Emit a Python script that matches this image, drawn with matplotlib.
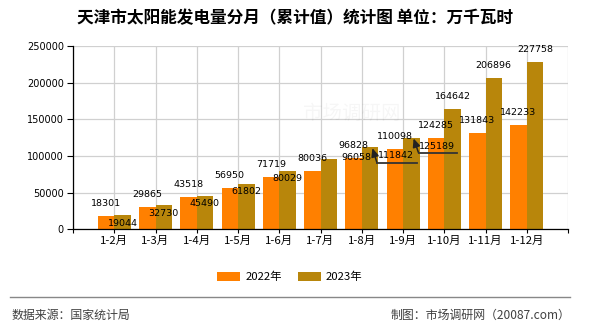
import matplotlib
matplotlib.use("Agg")
import matplotlib.pyplot as plt
from matplotlib.lines import Line2D
from matplotlib.patches import Patch
from matplotlib.transforms import IdentityTransform

plt.rcParams['font.family'] = ['Noto Sans CJK SC', 'DejaVu Sans']

# Data
categories = ['1-2月', '1-3月', '1-4月', '1-5月', '1-6月', '1-7月',
              '1-8月', '1-9月', '1-10月', '1-11月', '1-12月']
values_2022 = [18301, 29865, 43518, 56950, 71719, 80036,
               96828, 110098, 124285, 131843, 142233]
values_2023 = [19044, 32730, 45490, 61802, 80029, 96058,
               111842, 125189, 164642, 206896, 227758]
series_names = ['2022年', '2023年']
y_ticks = [0, 50000, 100000, 150000, 200000, 250000]

COLOR_2022 = '#FF8000'
COLOR_2023 = '#B8860B'
GRID = '#D0D0D0'

W, H = 590, 330
fig = plt.figure(figsize=(W / 100, H / 100), dpi=100)
ax = fig.add_axes([73 / W, (H - 229.3) / H, (568 - 73) / W, (229.3 - 46) / H])

n = len(categories)
xs = list(range(n))
bw = 0.4
ax.bar([x - bw / 2 for x in xs], values_2022, width=bw, color=COLOR_2022, zorder=2)
ax.bar([x + bw / 2 for x in xs], values_2023, width=bw, color=COLOR_2023, zorder=2)

ax.set_xlim(-1, n)
ax.set_ylim(0, 250000)
ax.set_yticks(y_ticks)
ax.set_yticklabels([str(v) for v in y_ticks], fontsize=7, family='DejaVu Sans')
ax.set_xticks(list(range(-1, n + 1)))
ax.set_xticklabels([''] + categories + [''], fontsize=8.2)

ax.grid(True, color=GRID, linewidth=0.9, zorder=0)
ax.set_axisbelow(True)
for s in ('top', 'right'):
    ax.spines[s].set_visible(False)
for s in ('left', 'bottom'):
    ax.spines[s].set_color('black')
    ax.spines[s].set_linewidth(0.9)
ax.tick_params(axis='y', direction='out', length=4.5, width=0.8, pad=2)
ax.tick_params(axis='x', direction='out', length=3, width=0.8, pad=2)

# Faint watermark behind the labels
fig.text(352 / W, 1 - 113 / H, '市场调研网', fontsize=14, color='#000000',
         alpha=0.035, ha='center', va='center', zorder=1)

# Value labels (pixel offsets from the bar tops)
lbl_kw = dict(textcoords='offset pixels', ha='center', va='center',
              fontsize=6.8, family='DejaVu Sans', color='black', zorder=4)
for x, v in zip(xs, values_2022):
    ax.annotate(str(v), xy=(x - bw / 2, v), xytext=(0, 12.5), **lbl_kw)

offsets_2023 = [(0, -8)] * 5 + [(27.5, 1), (25.5, -7.8), (26, -8.6)] + [(0, 12.5)] * 3
for x, v, off in zip(xs, values_2023, offsets_2023):
    ax.annotate(str(v), xy=(x + bw / 2, v), xytext=off, **lbl_kw)

# Leader arrows for shifted labels (pixel offsets: start, corner, tip)
leaders = {6: [(47, -15.5), (7, -15.5), (2.4, -0.8)],
           7: [(45.7, -15.3), (7.3, -15.3), (2.3, -0.9)]}
fig.canvas.draw()
for i, pts in leaders.items():
    ax_px, ay_px = ax.transData.transform((xs[i] + bw / 2, values_2023[i]))
    p = [(ax_px + dx, ay_px + dy) for dx, dy in pts]
    fig.add_artist(Line2D([p[0][0], p[1][0]], [p[0][1], p[1][1]],
                          transform=IdentityTransform(), color='#333333',
                          linewidth=1.3, zorder=5))
    ax.annotate('', xy=p[2], xycoords='figure pixels', xytext=p[1],
                textcoords='figure pixels',
                arrowprops=dict(arrowstyle='-|>,head_length=0.5,head_width=0.22',
                                color='#222222', lw=1.1, shrinkA=0, shrinkB=0,
                                mutation_scale=10), zorder=5)

# Title
fig.text(0.5, 1 - 18 / H, '天津市太阳能发电量分月（累计值）统计图 单位：万千瓦时',
         ha='center', va='center', fontsize=12, fontweight='bold', color='black')

# Legend
handles = [Patch(facecolor=COLOR_2022, edgecolor='none'),
           Patch(facecolor=COLOR_2023, edgecolor='none')]
fig.legend(handles, series_names, loc='center', bbox_to_anchor=(290 / W, 1 - 277 / H),
           ncol=2, frameon=False, fontsize=8.2, handlelength=2.0, handleheight=0.8,
           handletextpad=0.45, columnspacing=1.45)

# Footer
fig.add_artist(Line2D([10 / W, 570 / W], [1 - 297 / H, 1 - 297 / H],
                      transform=fig.transFigure, color='#888888', linewidth=1))
fig.text(12 / W, 1 - 315 / H, '数据来源：国家统计局', ha='left', va='center',
         fontsize=8.6, color='#404040')
fig.text(570 / W, 1 - 315 / H, '制图：市场调研网（20087.com）', ha='right', va='center',
         fontsize=8.6, color='#404040')

fig.savefig('out.png', dpi=100)
